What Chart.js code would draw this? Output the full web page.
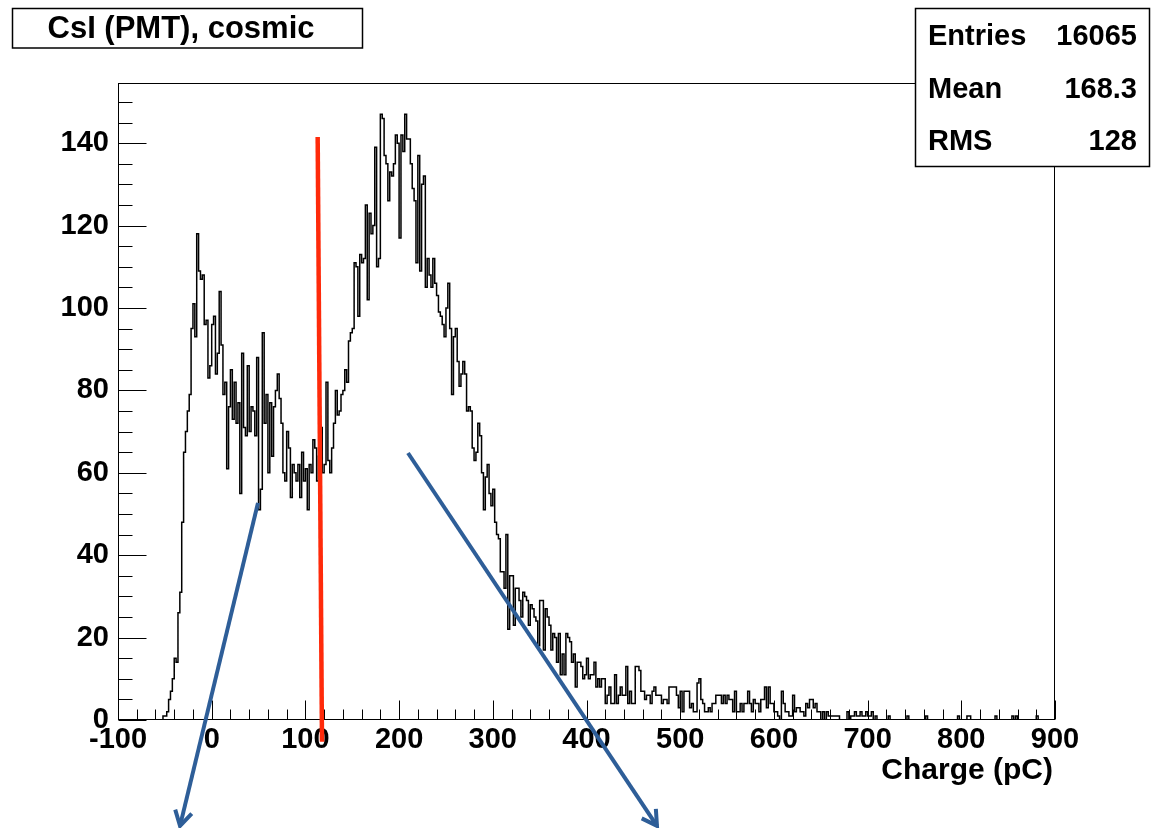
<!DOCTYPE html>
<html><head><meta charset="utf-8">
<script src="https://cdn.jsdelivr.net/npm/chart.js@4.4.1/dist/chart.umd.min.js"></script>
<style>html,body{margin:0;padding:0;background:#fff;}canvas{display:block;}</style>
</head><body>
<canvas id="c" width="1155" height="828"></canvas>
<script>
const TITLE = 'CsI (PMT), cosmic';
const X_TITLE = 'Charge (pC)';
const BIN_LOW = -100;
const BIN_WIDTH = 2;
const X_MIN = -100, X_MAX = 900, Y_MAX = 154.6;
// histogram bin contents (500 bins of 2 pC from -100 to 900)
const counts = [
0,0,0,0,0,0,0,0,0,0,0,0,0,0,0,0,0,0,0,0,
0,0,0,0,1,1,2,5,7,10,15,14,26,31,48,65,70,75,79,95,
101,93,118,109,107,108,96,97,83,86,96,98,84,89,104,91,79,82,61,76,
85,73,82,72,77,55,89,71,69,86,70,76,75,69,88,51,56,94,72,79,
60,77,64,76,80,84,78,72,60,58,70,66,54,62,60,58,62,54,65,58,
61,51,62,60,68,66,58,64,71,60,62,82,63,60,66,72,80,74,75,79,
80,85,82,92,94,95,111,110,98,113,111,112,125,102,123,118,120,139,110,112,
147,146,137,135,126,133,132,135,142,140,117,142,138,147,141,141,135,129,126,111,
137,109,130,132,105,112,108,105,112,106,103,99,98,96,93,100,106,95,79,93,
95,87,81,84,87,84,75,76,75,66,63,65,72,69,60,51,59,62,55,52,
56,48,45,44,36,36,32,45,22,35,35,23,32,32,29,25,31,30,29,23,
28,27,25,24,18,29,29,17,27,25,23,17,21,20,14,21,11,16,11,21,
20,19,14,16,8,14,14,13,10,11,15,10,11,11,14,8,10,8,10,10,
4,6,8,4,4,11,4,6,8,6,6,13,4,7,4,4,13,13,12,7,
7,5,6,6,4,7,8,6,6,6,4,5,5,4,8,8,8,8,6,3,
7,2,7,7,7,3,4,2,2,9,10,5,4,2,2,3,2,4,4,6,
6,6,4,6,4,6,5,5,2,7,2,2,4,2,4,4,7,4,2,5,
4,4,2,5,5,8,3,8,4,4,2,2,1,0,7,4,2,2,1,1,
6,2,3,3,2,2,1,4,3,5,5,3,4,2,2,0,2,0,2,1,
1,1,1,1,1,0,0,0,0,2,0,1,1,2,1,1,2,1,1,2,
1,1,2,0,1,0,0,0,0,0,0,1,0,0,0,0,0,0,0,0,
0,1,0,0,0,0,0,0,0,0,0,1,0,0,0,0,0,0,0,0,
0,0,0,0,0,0,0,0,1,0,0,0,0,1,1,0,0,0,0,0,
0,0,0,0,0,0,0,0,1,0,0,0,0,0,0,0,0,1,0,1,
0,0,0,0,0,0,0,0,0,0,1,0,0,0,0,0,0,0,0,0
];
const statLabels = ['Entries', 'Mean', 'RMS'];
const statValues = ['16065', '168.3', '128'];
// annotations in data units (pC, counts)
const redLine = [{x: 113.1, y: 141.5}, {x: 117.7, y: -5.3}];
const arrowLeft = [{x: 49.4, y: 52.7}, {x: -33.8, y: -25.7}];
const arrowRight = [{x: 209.5, y: 64.8}, {x: 475.2, y: -25.7}];

const FAM = '"Liberation Sans", Arial, Helvetica, sans-serif';
Chart.defaults.font.family = FAM;

const points = counts.map((c, i) => ({x: BIN_LOW + i * BIN_WIDTH, y: c}));
points.push({x: BIN_LOW + counts.length * BIN_WIDTH, y: counts[counts.length - 1]});

const decor = {
  id: 'decor',
  afterDraw(chart) {
    const {ctx, chartArea: a, scales: {x, y}} = chart;
    ctx.save();
    // frame
    ctx.strokeStyle = '#000';
    ctx.lineWidth = 1;
    const L = Math.round(a.left) + 0.5, R = Math.round(a.right) - 0.5;
    const T = Math.round(a.top) + 0.5, B = Math.round(a.bottom) - 0.5;
    ctx.strokeRect(L, T, R - L, B - T);
    // x ticks
    ctx.beginPath();
    for (let v = X_MIN; v <= X_MAX; v += 20) {
      const px = Math.round(x.getPixelForValue(v)) + 0.5;
      const len = (v % 100 === 0) ? 19 : 10;
      ctx.moveTo(px, B); ctx.lineTo(px, B - len);
    }
    // y ticks
    for (let v = 0; v <= Y_MAX; v += 5) {
      const py = Math.round(y.getPixelForValue(v)) + 0.5;
      const len = (v % 20 === 0) ? 28 : 14;
      ctx.moveTo(L, py); ctx.lineTo(L + len, py);
    }
    ctx.stroke();

    // axis title
    ctx.fillStyle = '#000';
    ctx.font = 'bold 30px ' + FAM;
    ctx.textAlign = 'right';
    ctx.textBaseline = 'alphabetic';
    ctx.fillText(X_TITLE, a.right - 2, 779);

    // red line
    ctx.strokeStyle = '#ff2a0a';
    ctx.lineWidth = 4.5;
    ctx.lineCap = 'butt';
    ctx.beginPath();
    ctx.moveTo(x.getPixelForValue(redLine[0].x), y.getPixelForValue(redLine[0].y));
    ctx.lineTo(x.getPixelForValue(redLine[1].x), y.getPixelForValue(redLine[1].y));
    ctx.stroke();

    // blue arrows
    function arrow(p0, p1) {
      const x0 = x.getPixelForValue(p0.x), y0 = y.getPixelForValue(p0.y);
      const x1 = x.getPixelForValue(p1.x), y1 = y.getPixelForValue(p1.y);
      ctx.beginPath(); ctx.moveTo(x0, y0); ctx.lineTo(x1, y1); ctx.stroke();
      const ang = Math.atan2(y1 - y0, x1 - x0);
      const hl = 17, sp = Math.PI / 6;
      ctx.beginPath();
      ctx.moveTo(x1 - hl * Math.cos(ang - sp), y1 - hl * Math.sin(ang - sp));
      ctx.lineTo(x1, y1);
      ctx.lineTo(x1 - hl * Math.cos(ang + sp), y1 - hl * Math.sin(ang + sp));
      ctx.stroke();
    }
    ctx.strokeStyle = '#2e5e98';
    ctx.lineWidth = 4;
    ctx.lineJoin = 'miter';
    arrow(arrowLeft[0], arrowLeft[1]);
    arrow(arrowRight[0], arrowRight[1]);

    // title box
    ctx.lineWidth = 1.5;
    ctx.strokeStyle = '#000';
    ctx.fillStyle = '#fff';
    ctx.fillRect(12.5, 8.5, 350, 39.5);
    ctx.strokeRect(12.5, 8.5, 350, 39.5);
    ctx.fillStyle = '#000';
    ctx.font = 'bold 31px ' + FAM;
    ctx.textAlign = 'center';
    ctx.textBaseline = 'middle';
    ctx.fillText(TITLE, 181, 29);

    // stats box
    ctx.fillStyle = '#fff';
    ctx.fillRect(915.5, 8.5, 234, 158);
    ctx.strokeRect(915.5, 8.5, 234, 158);
    ctx.fillStyle = '#000';
    ctx.font = 'bold 29px ' + FAM;
    const rowsY = [37, 90, 142];
    for (let i = 0; i < statLabels.length; i++) {
      ctx.textAlign = 'left';
      ctx.fillText(statLabels[i], 928, rowsY[i]);
      ctx.textAlign = 'right';
      ctx.fillText(statValues[i], 1137, rowsY[i]);
    }
    ctx.restore();
  }
};

const tickFont = {family: FAM, size: 29, weight: 'bold', lineHeight: 1.2};

new Chart(document.getElementById('c'), {
  type: 'line',
  data: {
    datasets: [{
      data: points,
      stepped: true,
      borderColor: '#000',
      borderWidth: 1.5,
      pointRadius: 0,
      fill: false,
      tension: 0
    }]
  },
  options: {
    responsive: false,
    animation: false,
    devicePixelRatio: 1,
    layout: {padding: {left: 0, right: 100, top: 83, bottom: 0}},
    plugins: {legend: {display: false}, title: {display: false}, tooltip: {enabled: false}},
    scales: {
      x: {
        type: 'linear', min: X_MIN, max: X_MAX,
        afterFit(s) { s.height = 108; },
        ticks: {stepSize: 100, font: tickFont, color: '#000', padding: 3, maxRotation: 0, autoSkip: false, includeBounds: false},
        grid: {display: false, drawTicks: false},
        border: {display: false}
      },
      y: {
        type: 'linear', min: 0, max: Y_MAX,
        afterFit(s) { s.width = 118; },
        ticks: {stepSize: 20, font: tickFont, color: '#000', padding: 9, includeBounds: false},
        grid: {display: false, drawTicks: false},
        border: {display: false}
      }
    }
  },
  plugins: [decor]
});
</script>
</body></html>
